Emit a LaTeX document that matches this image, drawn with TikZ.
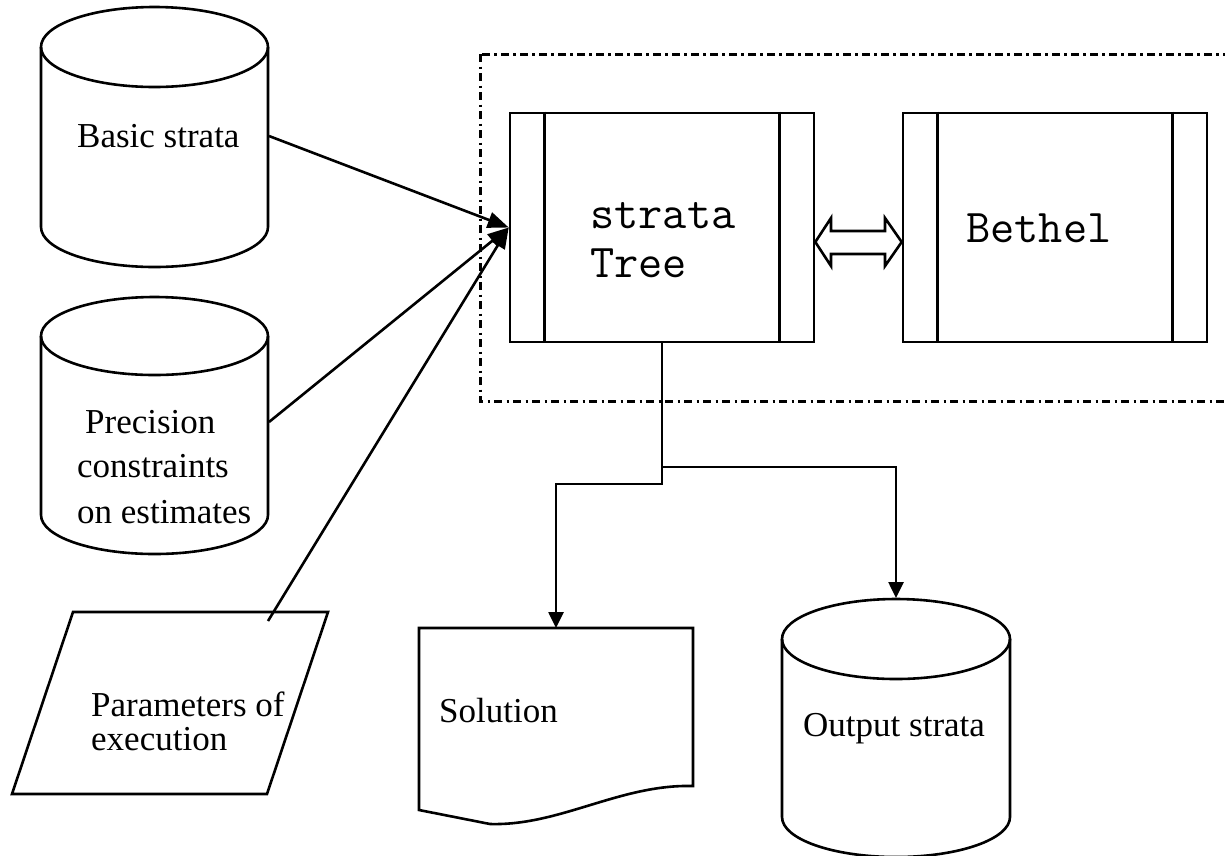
\documentclass[tikz,border=0pt]{standalone}
\usepackage{fontspec}
\setmainfont{Liberation Serif}
\usetikzlibrary{arrows.meta}

% drum (database) symbol: left x, right x, top centre y, bottom centre y, half height of the ellipses
\newcommand\drum[5]{%
  \pgfmathsetmacro\drumrx{(#2-#1)/2}%
  \draw[outline] ({(#1+#2)/2},#3) ellipse[x radius=\drumrx pt, y radius=#5pt];
  \draw[outline] (#1,#3) -- (#1,#4)
    arc[start angle=180, end angle=360, x radius=\drumrx pt, y radius=#5pt] -- (#2,#3);
}

\begin{document}
\begin{tikzpicture}[x=1pt, y=-1pt,
  outline/.style={draw=black, line width=2.6pt, line join=miter},
  label/.style={inner sep=0pt, anchor=base west, font=\fontsize{35}{40}\selectfont},
  code/.style={inner sep=0pt, anchor=base west, font=\ttfamily\fontsize{47}{52}\selectfont},
  procbox/.style={outline, rectangle, inner sep=0pt, minimum width=304pt, minimum height=229pt},
  feed/.style={line width=2.6pt, -{Triangle[length=21pt, width=16pt]}},
  flow/.style={line width=2.6pt, -{Triangle[length=16pt, width=15pt]}},
  boundary/.style={line width=3pt, dash pattern=on 8pt off 4.5pt on 2.5pt off 4pt}
]
\useasboundingbox (0,0) rectangle (1225,855);

% system boundary
\draw[boundary] (480,54) rectangle (1240,401);

% processes
\node[procbox] (tree) at (662,227.5) {};
\node[procbox] (bethel) at (1055,227.5) {};
\foreach \p in {tree,bethel}{
  \draw[outline] ([xshift=36pt]\p.north west) -- ([xshift=36pt]\p.south west);
  \draw[outline] ([xshift=-36pt]\p.north east) -- ([xshift=-36pt]\p.south east);
}
\node[code] (tree-l1) at (590,228) {strata};
\node[code] (tree-l2) at (590,277) {Tree};
\node[code] (bethel-l) at (966,242) {Bethel};

% two-way link between the processes
\draw[outline] (tree.east |- 0,242) -- (831,218) -- (831,231) -- (885,231) -- (885,218)
  -- (bethel.west |- 0,242) -- (885,266) -- (885,254) -- (831,254) -- (831,266) -- cycle;

% input stores
\drum{41}{268}{47}{227}{40}
\node[label] (basic) at (77,147) {Basic strata};
\drum{41}{268}{336}{515}{39}
\node[label] (prec-l1) at (85,433) {Precision};
\node[label] (prec-l2) at (77,477) {constraints};
\node[label] (prec-l3) at (77,523) {on estimates};

% manual input
\draw[outline] (73,612) -- (328,612) -- (267,794) -- (12,794) -- cycle;
\node[label] (param-l1) at (91,716) {Parameters of};
\node[label] (param-l2) at (91,750) {execution};

% output document
\draw[outline] (419,628) -- (693,628) -- (693,786)
  .. controls (620,784) and (560,826) .. (490,824) -- (419,810) -- cycle;
\node[label] (sol) at (439,722) {Solution};

% output store
\drum{782}{1010}{639}{817}{40}
\node[label] (outstrata) at (803,736) {Output strata};

% connector end points
\coordinate (basic-out) at (269,136);
\coordinate (prec-out) at (269,422);
\coordinate (param-out) at (268,621);
\coordinate (split-a) at (662,484);
\coordinate (split-b) at (662,467);
\coordinate (sol-top) at (556,628);
\coordinate (out-top) at (896,598);

% inputs to the tree process
\draw[feed] (basic-out) -- (tree.west);
\draw[feed] (prec-out) -- (tree.west);
\draw[feed] (param-out) -- (tree.west);

% results
\draw[flow] (tree.south) -- (split-a) -| (sol-top);
\draw[flow] (split-b) -| (out-top);
\end{tikzpicture}
\end{document}
